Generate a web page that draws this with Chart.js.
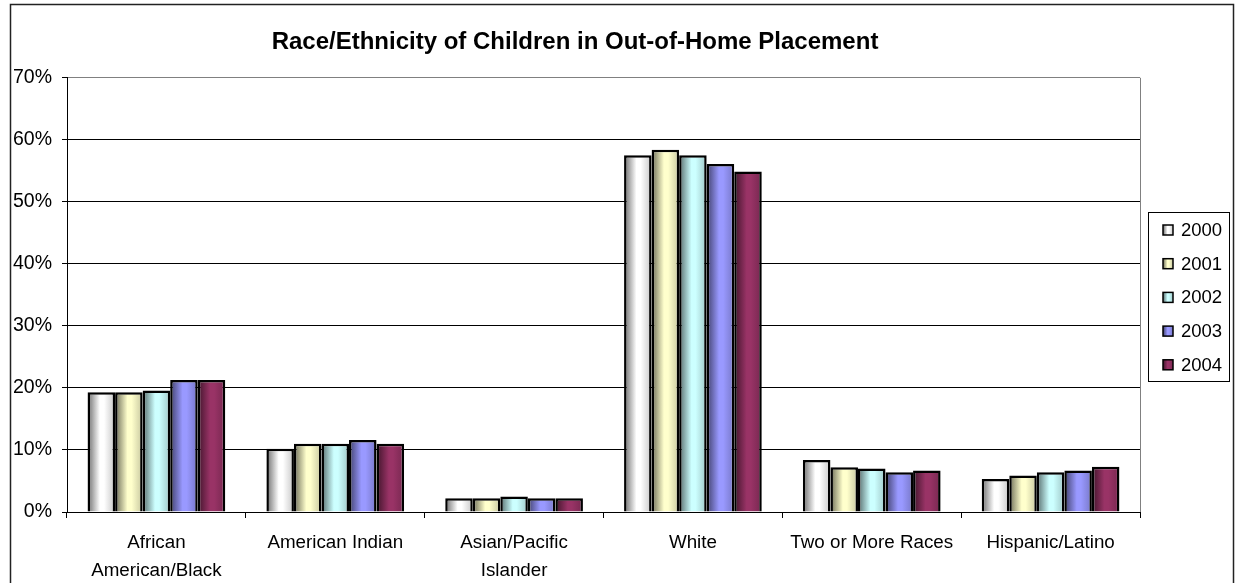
<!DOCTYPE html>
<html>
<head>
<meta charset="utf-8">
<title>Race/Ethnicity of Children in Out-of-Home Placement</title>
<script src="https://cdn.jsdelivr.net/npm/chart.js@4.4.1/dist/chart.umd.min.js"></script>
<style>
  html, body { margin: 0; padding: 0; background: #fff; }
  #wrap { width: 1238px; height: 583px; }
</style>
</head>
<body>
<div id="wrap"><canvas id="placement"></canvas></div>
<script>
// Share of children in out-of-home placement, by race/ethnicity (percent)
const categories = [['African', 'American/Black'], 'American Indian', ['Asian/Pacific', 'Islander'], 'White', 'Two or More Races', 'Hispanic/Latino'];
const years = ['2000', '2001', '2002', '2003', '2004'];
const pct2000 = [19.3, 10.2, 2.2, 57.5, 8.4, 5.3];
const pct2001 = [19.3, 11.0, 2.2, 58.4, 7.2, 5.9];
const pct2002 = [19.6, 11.0, 2.5, 57.5, 7.0, 6.4];
const pct2003 = [21.3, 11.6, 2.2, 56.1, 6.4, 6.7];
const pct2004 = [21.3, 11.0, 2.2, 54.9, 6.7, 7.3];
const yMin = 0, yMax = 70, yStep = 10;
const barColors = ['#ffffff', '#ffffcc', '#ccffff', '#9999ff', '#993366'];

const FONT = "'Liberation Sans', Arial, sans-serif";

function shade(hex, f) {
  const n = parseInt(hex.slice(1), 16);
  const r = Math.round(((n >> 16) & 255) * f);
  const g = Math.round(((n >> 8) & 255) * f);
  const b = Math.round((n & 255) * f);
  return `rgb(${r},${g},${b})`;
}

// old-style office "shaded" fill: dark left edge, bright middle, slightly dim right
function barGradient(ctx, x0, x1, hex) {
  const g = ctx.createLinearGradient(x0, 0, x1, 0);
  g.addColorStop(0, shade(hex, 0.42));
  g.addColorStop(0.45, hex);
  g.addColorStop(0.6, hex);
  g.addColorStop(1, shade(hex, 0.78));
  return g;
}

const frame = {
  id: 'frame',
  beforeDraw(chart) {
    const { ctx, width, height } = chart;
    ctx.save();
    ctx.fillStyle = '#fff';
    ctx.fillRect(0, 0, width, height);
    ctx.strokeStyle = '#222';
    ctx.lineWidth = 1.5;
    ctx.strokeRect(10.5, 4.5, 1223, height + 20);
    ctx.restore();
  },
  beforeDatasetsDraw(chart) {
    const { ctx, chartArea: a } = chart;
    // plot-area edge on the right
    ctx.save();
    ctx.strokeStyle = '#808080';
    ctx.lineWidth = 1;
    ctx.beginPath();
    ctx.moveTo(Math.round(a.right) + 0.5, a.top);
    ctx.lineTo(Math.round(a.right) + 0.5, a.bottom);
    ctx.stroke();
    ctx.restore();

    chart.data.datasets.forEach((ds, i) => {
      chart.getDatasetMeta(i).data.forEach(bar => {
        const { x, width } = bar.getProps(['x', 'width'], true);
        const fill = barGradient(ctx, x - width / 2, x + width / 2, barColors[i]);
        bar.options = Object.assign({}, bar.options, { backgroundColor: fill });
      });
    });
  }
};

// boxed legend to the right of the plot
const boxLegend = {
  id: 'boxLegend',
  afterDraw(chart) {
    const { ctx } = chart;
    const left = 1148, top = 212, w = 81, h = 169;
    ctx.save();
    ctx.strokeStyle = '#000';
    ctx.lineWidth = 1;
    ctx.strokeRect(left + 0.5, top + 0.5, w, h);
    ctx.font = `18.5px ${FONT}`;
    ctx.textBaseline = 'middle';
    chart.data.datasets.forEach((ds, i) => {
      const cy = top + 18 + i * 33.7;
      const sx = 1163, sz = 10;
      ctx.fillStyle = barGradient(ctx, sx, sx + sz, barColors[i]);
      ctx.fillRect(sx, cy - sz / 2, sz, sz);
      ctx.strokeStyle = '#000';
      ctx.lineWidth = 1.5;
      ctx.strokeRect(sx, cy - sz / 2, sz, sz);
      ctx.fillStyle = '#000';
      ctx.fillText(ds.label, 1181, cy + 1);
    });
    ctx.restore();
  }
};

const seriesValues = [pct2000, pct2001, pct2002, pct2003, pct2004];

new Chart(document.getElementById('placement'), {
  type: 'bar',
  data: {
    labels: categories,
    datasets: years.map((y, i) => ({
      label: y,
      data: seriesValues[i],
      backgroundColor: barColors[i],
      borderColor: '#000',
      borderWidth: 2.5,
      barPercentage: 1,
      categoryPercentage: 0.77
    }))
  },
  options: {
    responsive: true,
    maintainAspectRatio: false,
    animation: false,
    layout: { padding: { left: 10, right: 98, top: 14, bottom: 0 } },
    plugins: {
      legend: { display: false },
      tooltip: { enabled: false },
      title: {
        display: true,
        text: 'Race/Ethnicity of Children in Out-of-Home Placement',
        color: '#000',
        font: { family: FONT, size: 24, weight: 'bold', lineHeight: 1.2 },
        padding: { top: 14, bottom: 21 }
      }
    },
    scales: {
      x: {
        grid: { display: true, drawOnChartArea: false, offset: true, color: '#000', tickLength: 6 },
        border: { color: '#000', width: 1 },
        ticks: { color: '#000', padding: 11, font: { family: FONT, size: 18.8, lineHeight: 1.47 }, maxRotation: 0, autoSkip: false },
        afterFit: s => { s.height = 71; }
      },
      y: {
        min: yMin,
        max: yMax,
        grid: {
          color: c => (c.tick && c.tick.value === yMax ? '#808080' : '#000'),
          tickColor: '#000',
          tickLength: 5
        },
        border: { color: '#000', width: 1 },
        ticks: {
          stepSize: yStep,
          color: '#000',
          padding: 10,
          font: { family: FONT, size: 19.5 },
          callback: v => v + '%'
        },
        afterFit: s => { s.width = 57; }
      }
    }
  },
  plugins: [frame, boxLegend]
});
</script>
</body>
</html>
